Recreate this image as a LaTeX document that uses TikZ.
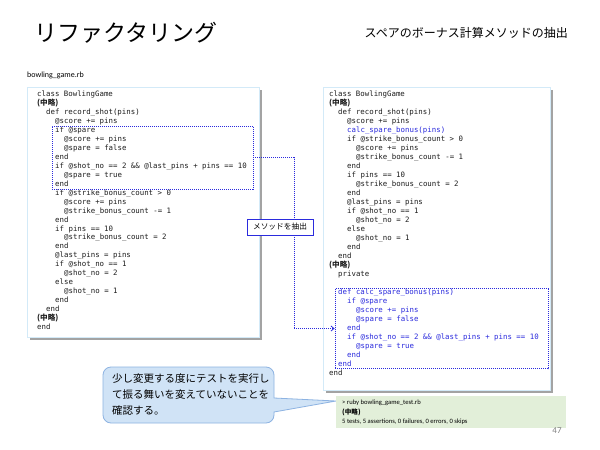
\documentclass[tikz,border=0pt]{standalone}
\usepackage{fontspec}
\setmainfont{Carlito}
\newfontfamily\jp{Noto Sans CJK JP}
\newfontfamily\codefont{DejaVu Sans Mono}
\usetikzlibrary{arrows.meta}
\definecolor{codeblue}{HTML}{2B2BDD}
\definecolor{codetext}{HTML}{1E1E1E}
\definecolor{framecol}{HTML}{D3EAF8}
\definecolor{shadowcol}{HTML}{A3A3A3}
\definecolor{callfill}{HTML}{D0E3F6}
\definecolor{calldraw}{HTML}{8DB3E2}
\definecolor{resgreen}{HTML}{E2EFD9}
\tikzset{
  codeline/.style={anchor=west, inner sep=0pt, font=\codefont\fontsize{7.4}{9}\selectfont,
    text height=5pt, text depth=1.5pt, text=codetext},
  jpline/.style={anchor=west, inner sep=0pt, font=\jp\bfseries\fontsize{7.6}{9}\selectfont,
    text height=5pt, text depth=1.5pt, text=codetext},
  bluecode/.style={text=codeblue},
  frame/.style={draw=framecol, line width=0.8pt, fill=white, inner sep=0pt},
  dotbox/.style={draw=codeblue, line width=0.8pt, dash pattern=on 1pt off 1pt, inner sep=0pt},
  conn/.style={draw=codeblue, line width=0.8pt, dash pattern=on 1pt off 1pt},
  labelbox/.style={draw=codeblue, line width=1pt, fill=white, inner sep=0pt,
    minimum width=66pt, minimum height=16pt, font=\jp\fontsize{7.7}{9}\selectfont},
  restext/.style={anchor=west, inner sep=0pt, font=\fontsize{6.6}{8}\selectfont, text=black}
}
% left code lines: index, level, text
\newcommand\lc[3]{\node[codeline] (l#1) at ({37+9*#2},{95+8.95*#1}) {#3};}
\newcommand\lj[3]{\node[jpline] (l#1) at ({37+9*#2},{95+8.95*#1}) {#3};}
\newcommand\rc[3]{\node[codeline] (r#1) at ({329+9*#2},{95+9.0*#1}) {#3};}
\newcommand\rb[3]{\node[codeline,bluecode] (r#1) at ({329+9*#2},{95+9.0*#1}) {#3};}
\newcommand\rj[3]{\node[jpline] (r#1) at ({329+9*#2},{95+9.0*#1}) {#3};}
\begin{document}
\begin{tikzpicture}[x=1pt,y=-1pt]
\useasboundingbox[fill=white] (0,0) rectangle (600,450);

% titles
\node[anchor=west, inner sep=0pt, font=\jp\fontsize{23}{23}\selectfont] (title) at (34,33) {リファクタリング};
\node[anchor=east, inner sep=0pt, font=\jp\fontsize{12}{12}\selectfont] (subtitle) at (568,33) {スペアのボーナス計算メソッドの抽出};
\node[anchor=west, inner sep=0pt, font=\fontsize{8}{8}\selectfont] (fname) at (27,75) {bowling\_game.rb};

% frames with shadows
\fill[shadowcol] (30,90) rectangle (262,340);
\node[frame, minimum width=232pt, minimum height=250pt] (lframe) at (143,212) {};
\fill[shadowcol] (326,90) rectangle (553,393);
\node[frame, minimum width=227pt, minimum height=303pt] (rframe) at (436.5,238.5) {};

% left code
\lc{0}{0}{class BowlingGame}
\lj{1}{0}{(中略)}
\lc{2}{1}{def record\_shot(pins)}
\lc{3}{2}{@score += pins}
\lc{4}{2}{if @spare}
\lc{5}{3}{@score += pins}
\lc{6}{3}{@spare = false}
\lc{7}{2}{end}
\lc{8}{2}{if @shot\_no == 2 \&\& @last\_pins + pins == 10}
\lc{9}{3}{@spare = true}
\lc{10}{2}{end}
\lc{11}{2}{if @strike\_bonus\_count > 0}
\lc{12}{3}{@score += pins}
\lc{13}{3}{@strike\_bonus\_count -= 1}
\lc{14}{2}{end}
\lc{15}{2}{if pins == 10}
\lc{16}{3}{@strike\_bonus\_count = 2}
\lc{17}{2}{end}
\lc{18}{2}{@last\_pins = pins}
\lc{19}{2}{if @shot\_no == 1}
\lc{20}{3}{@shot\_no = 2}
\lc{21}{2}{else}
\lc{22}{3}{@shot\_no = 1}
\lc{23}{2}{end}
\lc{24}{1}{end}
\lj{25}{0}{(中略)}
\lc{26}{0}{end}

% right code
\rc{0}{0}{class BowlingGame}
\rj{1}{0}{(中略)}
\rc{2}{1}{def record\_shot(pins)}
\rc{3}{2}{@score += pins}
\rb{4}{2}{calc\_spare\_bonus(pins)}
\rc{5}{2}{if @strike\_bonus\_count > 0}
\rc{6}{3}{@score += pins}
\rc{7}{3}{@strike\_bonus\_count -= 1}
\rc{8}{2}{end}
\rc{9}{2}{if pins == 10}
\rc{10}{3}{@strike\_bonus\_count = 2}
\rc{11}{2}{end}
\rc{12}{2}{@last\_pins = pins}
\rc{13}{2}{if @shot\_no == 1}
\rc{14}{3}{@shot\_no = 2}
\rc{15}{2}{else}
\rc{16}{3}{@shot\_no = 1}
\rc{17}{2}{end}
\rc{18}{1}{end}
\rj{19}{0}{(中略)}
\rc{20}{1}{private}
\rb{22}{1}{def calc\_spare\_bonus(pins)}
\rb{23}{2}{if @spare}
\rb{24}{3}{@score += pins}
\rb{25}{3}{@spare = false}
\rb{26}{2}{end}
\rb{27}{2}{if @shot\_no == 2 \&\& @last\_pins + pins == 10}
\rb{28}{3}{@spare = true}
\rb{29}{2}{end}
\rb{30}{1}{end}
\rc{31}{0}{end}

% dotted boxes
\node[dotbox, minimum width=201pt, minimum height=63pt] (lbox) at (152.5,157.5) {};
\node[dotbox, minimum width=213pt, minimum height=80pt] (rbox) at (441.5,328.5) {};

% connector
\draw[conn, -{Straight Barb[length=3pt,width=5pt]}] (lbox.east) -- ++(41,0) |- (rbox.west);
\node[labelbox] (extract) at (280,227) {メソッドを抽出};

% callout
\draw[fill=callfill, draw=calldraw, line width=0.8pt]
  (336,401) -- (274,412) [rounded corners=8pt] -- (274,423) -- (103,423) -- (103,367) -- (274,367) [sharp corners] -- (274,398) -- cycle;
\node[anchor=west, inner sep=0pt, align=left, font=\jp\fontsize{10.5}{16}\selectfont] (callout) at (112,394)
  {少し変更する度にテストを実行し\\て振る舞いを変えていないことを\\確認する。};

% result box
\node[fill=resgreen, inner sep=0pt, minimum width=230pt, minimum height=32pt] (result) at (451,412) {};
\node[restext] (res1) at (342,403) {> ruby bowling\_game\_test.rb};
\node[restext, font=\jp\bfseries\fontsize{6.6}{8}\selectfont] (res2) at (342,412.5) {(中略)};
\node[restext] (res3) at (342,422) {5 tests, 5 assertions, 0 failures, 0 errors, 0 skips};

% page number
\node[inner sep=0pt, font=\fontsize{9}{9}\selectfont, text=gray] (pageno) at (557,431) {47};
\end{tikzpicture}
\end{document}
